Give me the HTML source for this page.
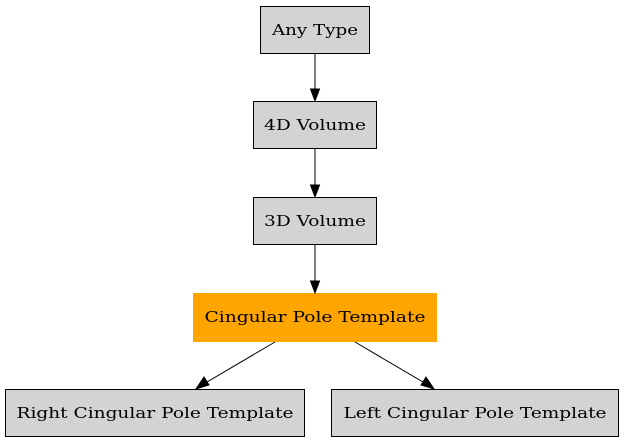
<!DOCTYPE html>
<html><head><meta charset="utf-8"><style>html,body{margin:0;padding:0;background:#fff;width:624px;height:443px;overflow:hidden}</style></head>
<body>
<svg width="624" height="443" viewBox="0 0 624 443" xmlns="http://www.w3.org/2000/svg" font-family="'DejaVu Serif', serif" font-size="15">
<rect width="624" height="443" fill="#fff"/>
<g stroke="#000" stroke-width="1" fill="#d3d3d3">
<rect x="260.5" y="6.5" width="109" height="47"/>
<rect x="253.5" y="101.5" width="123" height="47"/>
<rect x="253.5" y="197.5" width="123" height="47"/>
<rect x="5.5" y="389.5" width="299" height="47"/>
<rect x="331.5" y="389.5" width="287" height="47"/>
</g>
<rect x="193" y="293" width="244" height="49" fill="#ffa500"/>
<g stroke="#000" stroke-width="1" fill="none">
<line x1="315" y1="54" x2="315" y2="90"/>
<line x1="315" y1="149" x2="315" y2="186"/>
<line x1="315" y1="245" x2="315" y2="282"/>
<line x1="275" y1="342" x2="207" y2="382"/>
<line x1="355" y1="342" x2="423" y2="382"/>
</g>
<g fill="#000" stroke="#000">
<polygon points="310.5,89 319.5,89 315,101"/>
<polygon points="310.5,185 319.5,185 315,197"/>
<polygon points="310.5,281 319.5,281 315,293"/>
<polygon points="204,377 209,385 196,389"/>
<polygon points="421,385 426,377 434,389"/>
</g>
<g text-anchor="middle" fill="#000">
<text x="315" y="35" textLength="86" lengthAdjust="spacingAndGlyphs">Any Type</text>
<text x="315" y="130" textLength="102" lengthAdjust="spacingAndGlyphs">4D Volume</text>
<text x="315" y="226" textLength="102" lengthAdjust="spacingAndGlyphs">3D Volume</text>
<text x="315" y="322" textLength="221" lengthAdjust="spacingAndGlyphs">Cingular Pole Template</text>
<text x="155" y="418" textLength="277" lengthAdjust="spacingAndGlyphs">Right Cingular Pole Template</text>
<text x="475" y="418" textLength="263" lengthAdjust="spacingAndGlyphs">Left Cingular Pole Template</text>
</g>
</svg>
</body></html>
